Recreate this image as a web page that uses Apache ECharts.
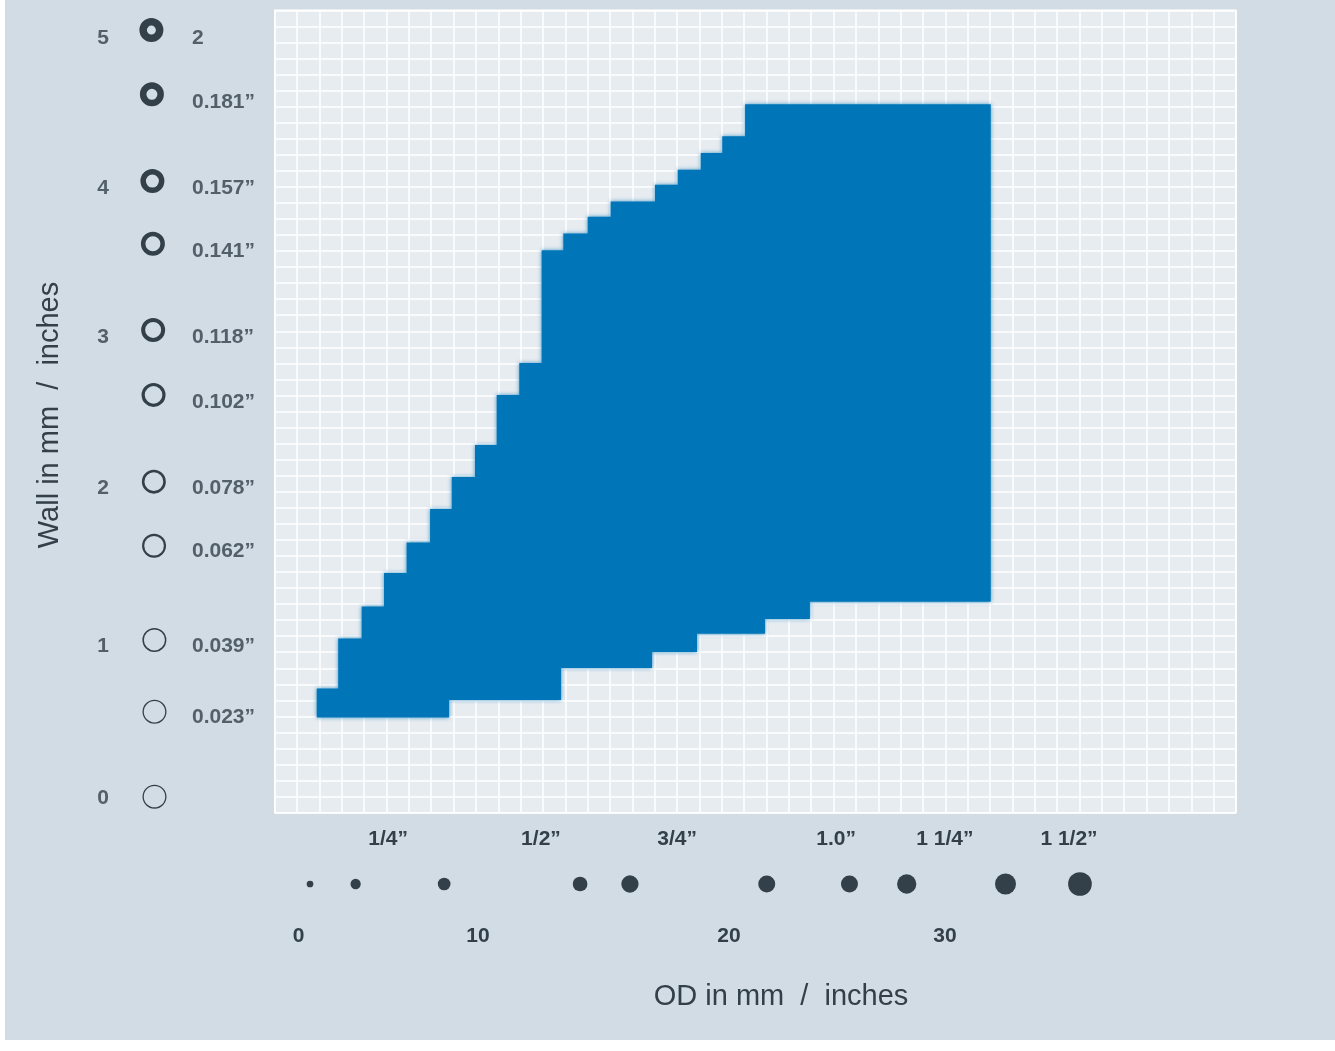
<!DOCTYPE html>
<html><head><meta charset="utf-8">
<script src="https://cdn.jsdelivr.net/npm/echarts@6/dist/echarts.min.js"></script>
<style>
html,body{margin:0;padding:0;background:#ffffff;}
#c{position:absolute;left:5px;top:0;width:1330px;height:1040px;}
</style>
</head><body><div id="c"></div>
<script>
// ---------------- DATA (mm) ----------------
// Upper boundary of the feasible area: step start OD and wall from that OD on
const topStepOD   = [1.88, 2.84, 3.89, 4.89, 5.90, 6.95, 7.92, 8.96, 9.93, 10.94, 11.94, 12.91, 14.00, 15.03, 17.01, 18.03, 19.06, 20.02, 21.04];
const topStepWall = [0.71, 1.04, 1.25, 1.47, 1.67, 1.89, 2.10, 2.31, 2.64, 2.85, 3.59, 3.70, 3.81, 3.91, 4.02, 4.12, 4.23, 4.34, 4.55];
// Lower boundary
const bottomStepOD   = [1.88, 7.80, 12.81, 16.88, 18.89, 21.93, 23.94];
const bottomStepWall = [0.52, 0.635, 0.846, 0.951, 1.07, 1.168, 1.28];
const odMax = 32.03;

// Wall axis tick labels
const wallMmTicks    = ['5', '4', '3', '2', '1', '0'];
const wallMmTickPos  = [5.0, 4.01, 3.03, 2.04, 1.0, 0.0];
const wallInchTicks  = ['2', '0.181”', '0.157”', '0.141”', '0.118”', '0.102”', '0.078”', '0.062”', '0.039”', '0.023”'];
const wallInchTickPos= [5.0, 4.578, 4.012, 3.598, 3.033, 2.607, 2.041, 1.627, 1.003, 0.537];
const wallRingPos    = [5.037, 4.615, 4.045, 3.633, 3.067, 2.640, 2.070, 1.649, 1.030, 0.558, 0.0];

// OD axis tick labels
const odMmTicks     = ['0', '10', '20', '30'];
const odMmTickPos   = [1.07, 9.09, 20.32, 29.98];
const odInchTicks   = ['1/4”', '1/2”', '3/4”', '1.0”', '1 1/4”', '1 1/2”'];
const odInchTickPos = [5.07, 11.91, 18.0, 25.11, 29.98, 35.53];
const odDotPos      = [1.58, 3.62, 7.58, 13.66, 15.89, 22.01, 25.71, 28.27, 32.69, 36.02];

// ---------------- STYLE ----------------
const ringWeight = [7.5, 6.5, 5.5, 4.5, 4, 3.2, 2.6, 2.2, 1.5, 1.3, 1.3];
const dotSize = [6.7, 10.3, 12.7, 14.7, 17.3, 17, 17, 19.3, 21, 23.7];
const INK = '#33404a';
const FONT = '"Liberation Sans", Arial, Helvetica, sans-serif';
const ROW = 0.10545;            // background cell height in mm
const X0 = 269.7, W = 961.3, T = 10.3, H = 802.4;

function pick(labels, pos, v) {
  let best = 0, bd = Infinity;
  pos.forEach((p, i) => { const d = Math.abs(p - v); if (d < bd) { bd = d; best = i; } });
  return labels[best];
}

const chart = echarts.init(document.getElementById('c'), null, {renderer: 'canvas'});

const hiddenAxis = {axisLine:{show:false}, axisTick:{show:false}, axisLabel:{show:false}, splitLine:{show:false}};
const labelStyle = {color: INK, fontSize: 21, fontWeight: 'bold', fontFamily: FONT};

const option = {
  backgroundColor: '#d2dce5',
  animation: false,
  grid: [
    {left: X0, top: T, width: W, height: H, show: true, backgroundColor: '#e7ecf0', borderColor: '#ffffff', borderWidth: 1.5},
    {left: 98, top: T, width: 100, height: H},
    {left: X0, top: 874, width: W, height: 20}
  ],
  xAxis: [
    Object.assign({}, hiddenAxis, {type: 'value', gridIndex: 0, min: 0, max: 43, interval: 1,
      splitLine: {show: true, lineStyle: {color: '#ffffff', width: 1.5}}}),
    Object.assign({}, hiddenAxis, {type: 'value', gridIndex: 0, min: 0, max: 43, position: 'bottom', offset: 8,
      axisLabel: Object.assign({show: true, margin: 8, hideOverlap: false, customValues: odInchTickPos,
        formatter: v => pick(odInchTicks, odInchTickPos, v)}, labelStyle)}),
    Object.assign({}, hiddenAxis, {type: 'value', gridIndex: 0, min: 0, max: 43, position: 'bottom', offset: 105,
      axisLabel: Object.assign({show: true, margin: 8, hideOverlap: false, customValues: odMmTickPos,
        formatter: v => pick(odMmTicks, odMmTickPos, v)}, labelStyle)}),
    Object.assign({}, hiddenAxis, {type: 'value', gridIndex: 1, min: 0, max: 2}),
    Object.assign({}, hiddenAxis, {type: 'value', gridIndex: 2, min: 0, max: 43})
  ],
  yAxis: [
    Object.assign({}, hiddenAxis, {type: 'value', gridIndex: 0, min: -ROW, max: 49 * ROW}),
    Object.assign({}, hiddenAxis, {type: 'value', gridIndex: 0, min: 0, max: 50, interval: 1,
      splitLine: {show: true, lineStyle: {color: '#ffffff', width: 1.5}}}),
    Object.assign({}, hiddenAxis, {type: 'value', gridIndex: 1, min: -ROW, max: 49 * ROW}),
    Object.assign({}, hiddenAxis, {type: 'value', gridIndex: 2, min: -1, max: 1})
  ],
  series: [
    {
      type: 'custom', xAxisIndex: 0, yAxisIndex: 0, clip: false,
      data: [[topStepOD[0], bottomStepWall[0]]],
      renderItem: function (params, api) {
        const pts = [];
        for (let i = 0; i < topStepOD.length; i++) {
          const prev = i === 0 ? bottomStepWall[0] : topStepWall[i - 1];
          pts.push(api.coord([topStepOD[i], prev]));
          pts.push(api.coord([topStepOD[i], topStepWall[i]]));
        }
        pts.push(api.coord([odMax, topStepWall[topStepWall.length - 1]]));
        pts.push(api.coord([odMax, bottomStepWall[bottomStepWall.length - 1]]));
        for (let j = bottomStepOD.length - 1; j > 0; j--) {
          pts.push(api.coord([bottomStepOD[j], bottomStepWall[j]]));
          pts.push(api.coord([bottomStepOD[j], bottomStepWall[j - 1]]));
        }
        return {type: 'polygon', shape: {points: pts},
          style: {fill: '#0075b7', shadowBlur: 4, shadowColor: 'rgba(0,117,183,0.7)'}};
      }
    },
    {
      type: 'scatter', xAxisIndex: 3, yAxisIndex: 2, symbolSize: 0, silent: true,
      data: wallMmTickPos.map(v => [0, v]),
      label: Object.assign({show: true, position: 'inside', offset: [0, 2], formatter: p => wallMmTicks[p.dataIndex]}, labelStyle)
    },
    {
      type: 'scatter', xAxisIndex: 3, yAxisIndex: 2, symbolSize: 0, silent: true,
      data: wallInchTickPos.map(v => [1.78, v]),
      label: Object.assign({show: true, position: 'right', distance: 0, offset: [0, 2], formatter: p => wallInchTicks[p.dataIndex]}, labelStyle)
    },
    {
      type: 'scatter', xAxisIndex: 3, yAxisIndex: 2, silent: true,
      data: wallRingPos.map((v, i) => ({
        value: [1, v],
        symbolSize: 24 - ringWeight[i],
        symbolOffset: [-(ringWeight[i] - 1.3) / 2 + 1.5, 0],
        itemStyle: {color: 'rgba(0,0,0,0)', borderColor: INK, borderWidth: ringWeight[i], opacity: 1}
      }))
    },
    {
      type: 'scatter', xAxisIndex: 4, yAxisIndex: 3, silent: true,
      data: odDotPos.map((x, i) => ({value: [x, 0], symbolSize: dotSize[i]})),
      itemStyle: {color: INK, opacity: 1}
    }
  ],
  graphic: [
    {type: 'text', x: 781 - 5, y: 997, silent: true,
      style: {text: 'OD in mm  /  inches', fontSize: 29, fontFamily: FONT, fill: INK, align: 'center', verticalAlign: 'middle'}},
    {type: 'text', x: 45, y: 415, rotation: Math.PI / 2, silent: true,
      style: {text: 'Wall in mm  /  inches', fontSize: 29, fontFamily: FONT, fill: INK, align: 'center', verticalAlign: 'middle'}}
  ]
};
chart.setOption(option);
</script>
</body></html>
